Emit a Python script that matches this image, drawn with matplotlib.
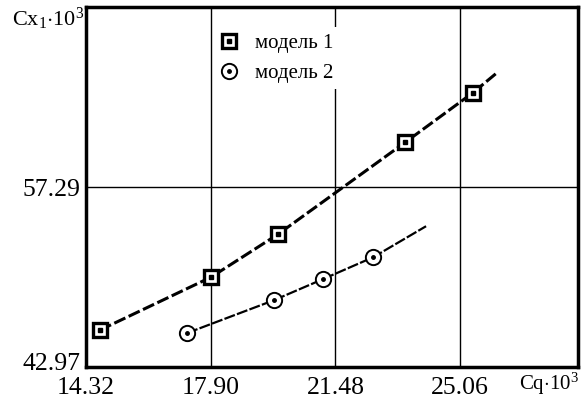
import matplotlib

matplotlib.use("Agg")
import matplotlib.pyplot as plt  # noqa: E402
import matplotlib.transforms as mtransforms  # noqa: E402
from matplotlib.legend_handler import HandlerTuple  # noqa: E402

plt.rcParams["font.family"] = ["Liberation Serif", "DejaVu Serif"]
plt.rcParams["mathtext.fontset"] = "custom"
plt.rcParams["mathtext.rm"] = "Liberation Serif"

# values
m1_x = [14.72, 17.91, 19.83, 23.48, 25.43]
m1_y = [45.91, 50.12, 53.53, 60.84, 64.80]
m1_line_x = [14.72, 17.91, 19.83, 23.48, 25.43, 26.12]
m1_line_y = [45.91, 50.12, 53.53, 60.84, 64.80, 66.39]

m2_x = [17.22, 19.72, 21.12, 22.56]
m2_y = [45.67, 48.29, 49.96, 51.70]
m2_line_x = [17.22, 19.72, 21.12, 22.56, 24.08]
m2_line_y = [45.67, 48.29, 49.96, 51.70, 54.17]

x_ticks = [14.32, 17.90, 21.48, 25.06]
y_ticks = [42.97, 57.29]
x_lim = (14.32, 28.44)
y_lim = (42.97, 71.61)

fig = plt.figure(figsize=(5.86, 4.0), dpi=100)
ax = fig.add_axes([0.1468, 0.0825, 0.8395, 0.9])

ax.plot(m1_line_x, m1_line_y, color="black", lw=2.2, ls=(0, (4, 1.2)), zorder=2)
ax.plot(m2_line_x, m2_line_y, color="black", lw=1.6, ls=(0, (5, 1)), zorder=2)

sq, = ax.plot(m1_x, m1_y, ls="none", marker="s", ms=9.5, mfc="white",
              mec="black", mew=2.4, zorder=3)
sqd, = ax.plot(m1_x, m1_y, ls="none", marker="s", ms=2.5, color="black", zorder=4)
ci, = ax.plot(m2_x, m2_y, ls="none", marker="o", ms=11, mfc="white",
              mec="black", mew=1.4, zorder=3)
cid, = ax.plot(m2_x, m2_y, ls="none", marker="o", ms=2.5, color="black", zorder=4)

leg = ax.legend([(sq, sqd), (ci, cid)], ["модель 1", "модель 2"],
                handler_map={tuple: HandlerTuple(ndivide=1, pad=0)},
                loc="upper left", bbox_to_anchor=(0.249, 0.955), fontsize=15,
                frameon=True, fancybox=False, edgecolor="none", facecolor="white",
                framealpha=1, handlelength=1.0, handletextpad=0.75, labelspacing=0.5,
                borderpad=0.3, borderaxespad=0.2)

ax.set_xlim(*x_lim)
ax.set_ylim(*y_lim)
ax.set_xticks(x_ticks)
ax.set_xticklabels([f"{v:.2f}" for v in x_ticks], fontsize=18.5)
ax.set_yticks(y_ticks)
ax.set_yticklabels([f"{v:.2f}" for v in y_ticks], fontsize=18.5)
ax.tick_params(axis="y", length=0, pad=4)
ax.tick_params(axis="x", length=0, pad=7)
ax.grid(True, color="black", lw=1.0)
ax.set_axisbelow(True)
for s in ax.spines.values():
    s.set_linewidth(2.5)

# lowest y label sits a little above the axis bottom in the reference
lab = ax.get_yticklabels()[0]
lab.set_transform(lab.get_transform()
                  + mtransforms.ScaledTranslation(0, 5 / 100, fig.dpi_scale_trans))

fig.text(0.02, 0.952, r"$\mathrm{Cx_1{\cdot}10^3}$", fontsize=16, ha="left", va="center")
fig.text(0.885, 0.04, r"$\mathrm{Cq{\cdot}10^3}$", fontsize=15, ha="left", va="center")

fig.savefig("out.png", dpi=100)
